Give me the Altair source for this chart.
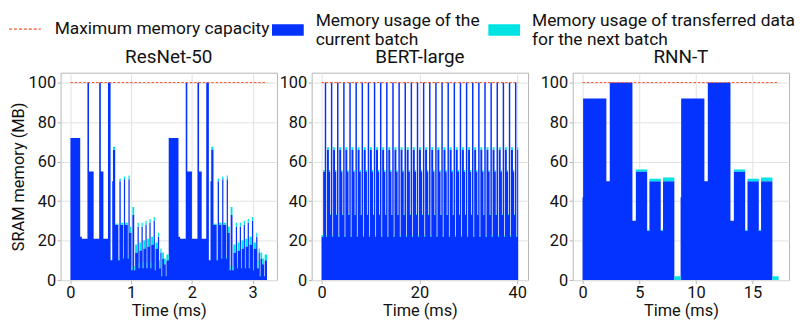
import altair as alt
import pandas as pd

FONT = "Roboto"
BLUE = "#0433ff"
CYAN = "#00e3e3"
RED = "#ff5026"

SERIES_MAX = "Maximum memory capacity"
SERIES_CUR = "Memory usage of the\ncurrent batch"
SERIES_NEXT = "Memory usage of transferred data\nfor the next batch"

# ---------------- ResNet-50: one iteration (offset ms, current MB, next-batch MB)
resnet_offsets = [0.000, 0.161, 0.188, 0.280, 0.306, 0.382, 0.473, 0.500, 0.543, 0.618,
                  0.661, 0.688, 0.700, 0.737, 0.790, 0.806, 0.828, 0.870, 0.880, 0.900,
                  0.945, 0.955, 0.975, 1.005, 1.020, 1.050, 1.065, 1.105, 1.125, 1.135,
                  1.170, 1.190, 1.200, 1.235, 1.255, 1.265, 1.300, 1.320, 1.330, 1.370,
                  1.390, 1.400, 1.440, 1.460, 1.480, 1.500, 1.510, 1.540, 1.570, 1.580]
resnet_blue = [72, 22, 21, 100, 55, 21, 100, 55, 21, 100,
               10, 50, 66, 28, 10, 50, 28, 11, 51, 28,
               11, 51, 24, 5, 33, 5, 14, 27, 6, 15,
               27, 6, 16, 28, 6, 17, 29, 6, 18, 30,
               5, 16, 22, 6, 14, 2, 11, 8, 2, 10]
resnet_cyan = [0, 0, 0, 0, 0, 0, 0, 0, 0, 0,
               0, 0, 1.5, 0.5, 1, 1.5, 1, 1, 1.5, 1,
               1, 2, 3, 2, 4, 2, 4, 2, 3, 4,
               2, 3, 4, 2, 3, 4, 2, 3, 4, 2,
               4, 3, 2, 4, 2, 1, 3, 3, 0, 3]
resnet_iter_starts = [0.0, 1.618]
resnet_end = 3.236

# ---------------- BERT-large: lead-in, then one repeating iteration
bert_lead_offsets = [0.0, 0.33]
bert_lead_blue = [22, 55]
bert_lead_cyan = [0.8, 0.8]
bert_offsets = [0.00, 0.30, 0.45, 0.85, 1.10]
bert_blue = [100, 22, 66, 55, 33]
bert_cyan = [0, 0.8, 1.2, 0.8, 0.6]
bert_iter_starts = [0.66, 1.914, 3.168, 4.422, 5.676, 6.93, 8.184, 9.438, 10.692, 11.946,
                    13.2, 14.454, 15.708, 16.962, 18.216, 19.47, 20.724, 21.978, 23.232,
                    24.486, 25.74, 26.994, 28.248, 29.502, 30.756, 32.01, 33.264, 34.518,
                    35.772, 37.026, 38.28, 39.534]
bert_end = 40.2

# ---------------- RNN-T: one iteration, repeated twice
rnnt_offsets = [0.00, 0.05, 2.10, 2.40, 4.40, 4.70, 5.70, 5.90, 6.90, 7.10, 8.10]
rnnt_blue = [42, 92, 50, 100, 30, 55, 25, 50, 25, 50, 0]
rnnt_cyan = [0, 0, 0, 0, 0, 1, 0.5, 1.3, 0.5, 2, 2]
rnnt_iter_starts = [0.0, 8.65]
rnnt_end = 17.30

MAX_CAPACITY = 100


def build(offsets, blue, cyan, starts, end, lead=None):
    rows = []
    if lead is not None:
        for o, b, c in zip(*lead):
            rows.append((o, b, c))
    for s in starts:
        for o, b, c in zip(offsets, blue, cyan):
            t = s + o
            if t < end:
                rows.append((t, b, c))
    last = rows[-1]
    rows.append((end, last[1], last[2]))
    df = pd.DataFrame(rows, columns=["t", "blue", "cyan"])
    df["top"] = df["blue"] + df["cyan"]
    df["s_cur"] = SERIES_CUR
    df["s_next"] = SERIES_NEXT
    return df


fill_scale = alt.Scale(domain=[SERIES_CUR, SERIES_NEXT], range=[BLUE, CYAN])
stroke_scale = alt.Scale(domain=[SERIES_MAX], range=[RED])

fill_legend = alt.Legend(
    title=None, orient="none", legendX=213, legendY=-59, direction="horizontal",
    symbolType="M-1,-0.36H1V0.36H-1Z", symbolSize=1024, symbolStrokeWidth=0,
    labelExpr="split(datum.label, '\\n')", labelFontSize=17.5, labelOffset=12,
    labelBaseline="bottom",
    columnPadding=8, labelLimit=400, padding=0,
)
stroke_legend = alt.Legend(
    title=None, orient="none", legendX=-53, legendY=-61,
    symbolType="stroke", symbolSize=1024, symbolDash=[3, 2], symbolStrokeWidth=1.2,
    symbolStrokeColor=RED,
    labelFontSize=17.5, labelOffset=13, labelLimit=400, padding=0,
)


def panel(df, end, title, xdom, xvals, ytitle):
    rule_df = pd.DataFrame({"t0": [0.0], "t1": [end], "y": [MAX_CAPACITY],
                            "label": [SERIES_MAX]})
    x = alt.X("t:Q", scale=alt.Scale(domain=xdom, nice=False, zero=False),
              axis=alt.Axis(values=xvals, title="Time (ms)", format="d"))
    if ytitle:
        yax = alt.Axis(values=[0, 20, 40, 60, 80, 100], title="SRAM memory (MB)")
    else:
        yax = alt.Axis(values=[0, 20, 40, 60, 80, 100], title=None)
    yscale = alt.Scale(domain=[0, 105], nice=False)
    base = alt.Chart(df)
    cur = base.mark_area(interpolate="step-after").encode(
        x=x,
        y=alt.Y("blue:Q", scale=yscale, axis=yax),
        fill=alt.Fill("s_cur:N", scale=fill_scale, legend=fill_legend),
    )
    nxt = base.mark_area(interpolate="step-after").encode(
        x="t:Q",
        y="blue:Q",
        y2="top:Q",
        fill=alt.Fill("s_next:N", scale=fill_scale, legend=fill_legend),
    )
    rule = alt.Chart(rule_df).mark_rule(
        strokeDash=[2.5, 1.8], strokeWidth=1, color=RED, opacity=1
    ).encode(
        x="t0:Q", x2="t1:Q", y="y:Q",
        stroke=alt.Stroke("label:N", scale=stroke_scale, legend=stroke_legend),
    )
    return alt.layer(cur, nxt, rule).properties(
        width=218, height=209,
        title=alt.TitleParams(title, fontSize=19, fontWeight="normal", font=FONT, offset=6),
    )


df_resnet = build(resnet_offsets, resnet_blue, resnet_cyan, resnet_iter_starts, resnet_end)
df_bert = build(bert_offsets, bert_blue, bert_cyan, bert_iter_starts, bert_end,
                lead=(bert_lead_offsets, bert_lead_blue, bert_lead_cyan))
df_rnnt = build(rnnt_offsets, rnnt_blue, rnnt_cyan, rnnt_iter_starts, rnnt_end)

p1 = panel(df_resnet, resnet_end, "ResNet-50", [-0.162, 3.40], [0, 1, 2, 3], True)
p2 = panel(df_bert, bert_end, "BERT-large", [-2.01, 42.21], [0, 20, 40], False)
p3 = panel(df_rnnt, rnnt_end, "RNN-T", [-0.87, 18.22], [0, 5, 10, 15], False)

chart = alt.hconcat(alt.hconcat(p1, p2, spacing=0), p3, spacing=10).properties(
    padding={"left": 0, "top": 3, "right": 0, "bottom": 0}
).configure_view(
    stroke="#b5b5b5", strokeWidth=1
).configure_axis(
    labelFont=FONT, titleFont=FONT, labelFontSize=16.5, titleFontSize=16.5,
    labelColor="#111111", titleColor="#111111", titleFontWeight="normal",
    gridColor="#e2e2e2", domain=False, tickColor="#b5b5b5", tickSize=3.5,
    labelPadding=1.5,
).configure_axisX(
    titlePadding=1
).configure_axisY(
    titlePadding=2
).configure_legend(
    labelFont=FONT, labelColor="#111111"
).configure_title(
    font=FONT, color="#111111"
)

chart.save("out.html", embed_options={"renderer": "svg", "actions": False})
